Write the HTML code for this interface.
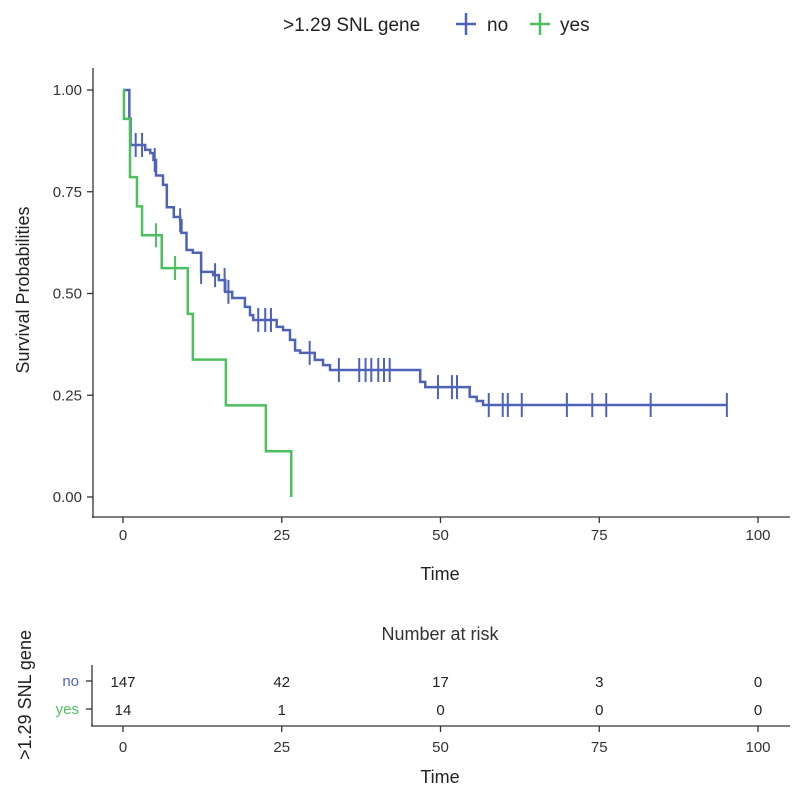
<!DOCTYPE html>
<html><head><meta charset="utf-8"><style>
body{margin:0;background:#fff;}
svg{display:block;font-family:"Liberation Sans",sans-serif;}
</style></head><body>
<svg id="chart" width="796" height="799" viewBox="0 0 796 799">
<g id="legend">
<text x="283" y="31" font-size="19" fill="#222">&gt;1.29 SNL gene</text>
<g><line x1="456" y1="24" x2="476" y2="24" stroke="#4E63B8" stroke-width="2.5"/><line x1="466" y1="13" x2="466" y2="35" stroke="#4E63B8" stroke-width="2.5"/><text x="487" y="31" font-size="19" fill="#222">no</text></g>
<g><line x1="530" y1="24" x2="550" y2="24" stroke="#4CBF5F" stroke-width="2.5"/><line x1="540" y1="13" x2="540" y2="35" stroke="#4CBF5F" stroke-width="2.5"/><text x="560" y="31" font-size="19" fill="#222">yes</text></g>
</g>
<g id="plot"></g>
<text x="440" y="580" font-size="18" fill="#222" text-anchor="middle">Time</text>
<text transform="translate(29,290) rotate(-90)" font-size="18" fill="#222" text-anchor="middle">Survival Probabilities</text>
<text x="440" y="640" font-size="18" fill="#333" text-anchor="middle">Number at risk</text>
<text transform="translate(31,695) rotate(-90)" font-size="18" fill="#222" text-anchor="middle">&gt;1.29 SNL gene</text>
<text x="440" y="783" font-size="18" fill="#222" text-anchor="middle">Time</text>
<g id="risk"></g>
</svg>
<script>
const xTicks=[0,25,50,75,100];
const yTicks=[0,0.25,0.5,0.75,1];
const yTickLabels=["0.00","0.25","0.50","0.75","1.00"];
const noTimes=[0,1.0,1.2,3.5,4.3,4.8,5.2,6.3,6.9,8.0,9.0,9.2,10.0,11.0,12.3,14.2,15.1,16.1,17.2,19.2,20.0,20.5,24.2,25.2,26.3,27.1,27.9,30.2,31.5,32.6,46.8,47.6,54.6,55.7,56.7];
const noSurv=[1,0.93,0.865,0.853,0.845,0.828,0.79,0.767,0.712,0.688,0.68,0.649,0.607,0.6,0.553,0.545,0.533,0.504,0.489,0.467,0.447,0.435,0.418,0.41,0.386,0.36,0.354,0.337,0.324,0.312,0.283,0.27,0.246,0.236,0.226];
const noEnd=95.1;
const noCensor=[2.0,3.0,5.0,9.0,12.3,14.5,16.0,16.6,21.3,22.4,23.3,29.4,34.0,37.2,38.2,39.1,40.2,41.1,42.0,49.6,51.8,52.6,57.6,59.8,60.6,62.8,69.9,73.9,76.1,83.1,95.1];
const yesTimes=[0,0.15,1.1,2.2,3.0,6.1,10.2,11.0,16.2,22.5,26.5];
const yesSurv=[1,0.929,0.786,0.714,0.643,0.5625,0.45,0.3375,0.225,0.1125,0];
const yesEnd=26.5;
const yesCensor=[5.2,8.2];
const riskGroups=["no","yes"];
const riskNo=[147,42,17,3,0];
const riskYes=[14,1,0,0,0];
const BLUE="#4E63B8",GREEN="#4CBF5F";
const NS="http://www.w3.org/2000/svg";
const X0=123,XS=6.35;
const sx=t=>X0+t*XS;
const sy=s=>497-s*407;
function mk(tag,attrs,parent){const e=document.createElementNS(NS,tag);for(const k in attrs)e.setAttribute(k,attrs[k]);parent.appendChild(e);return e;}
const plot=document.getElementById('plot');
mk('line',{x1:93,y1:68,x2:93,y2:518,stroke:'#333','stroke-width':1.3},plot);
mk('line',{x1:92,y1:517,x2:790,y2:517,stroke:'#333','stroke-width':1.3},plot);
xTicks.forEach(v=>{
 mk('line',{x1:sx(v),y1:517,x2:sx(v),y2:523,stroke:'#333','stroke-width':1.3},plot);
 const t=mk('text',{x:sx(v),y:540,'font-size':15,fill:'#333','text-anchor':'middle'},plot);t.textContent=v;
 
 
});
yTicks.forEach((v,i)=>{
 mk('line',{x1:87,y1:sy(v),x2:93,y2:sy(v),stroke:'#333','stroke-width':1.3},plot);
 const t=mk('text',{x:82,y:sy(v)+5,'font-size':15,fill:'#333','text-anchor':'end'},plot);t.textContent=yTickLabels[i];
 
 
});
function survAt(times,surv,t){let s=surv[0];for(let i=0;i<times.length;i++){if(times[i]<=t)s=surv[i];}return s;}
function drawCurve(times,surv,end,censor,color,name){
 let d='M'+sx(times[0])+','+sy(surv[0]);
 for(let i=1;i<times.length;i++){d+=' H'+sx(times[i])+' V'+sy(surv[i]);}
 d+=' H'+sx(end);
 const p=mk('path',{d:d,fill:'none',stroke:color,'stroke-width':2.5},plot);
 
 
 censor.forEach(c=>{
  const y=sy(survAt(times,surv,c));
  const l=mk('line',{x1:sx(c),y1:y-12,x2:sx(c),y2:y+12,stroke:color,'stroke-width':2},plot);
  
  
 });
}
drawCurve(noTimes,noSurv,noEnd,noCensor,BLUE,'no');
drawCurve(yesTimes,yesSurv,yesEnd,yesCensor,GREEN,'yes');
const risk=document.getElementById('risk');
mk('line',{x1:92,y1:665,x2:92,y2:726,stroke:'#333','stroke-width':1.3},risk);
mk('line',{x1:91,y1:726,x2:790,y2:726,stroke:'#333','stroke-width':1.3},risk);
const rowY=[681,709];
[riskNo,riskYes].forEach((row,r)=>{
 mk('line',{x1:86,y1:rowY[r],x2:92,y2:rowY[r],stroke:'#333','stroke-width':1.3},risk);
 const g=mk('text',{x:79,y:rowY[r]+5,'font-size':15,fill:r?GREEN:BLUE,'text-anchor':'end'},risk);g.textContent=riskGroups[r];
 
 
 row.forEach((v,i)=>{
  const t=mk('text',{x:sx(xTicks[i]),y:rowY[r]+6,'font-size':15,fill:'#222','text-anchor':'middle'},risk);t.textContent=v;
  
  
 });
});
xTicks.forEach(v=>{
 mk('line',{x1:sx(v),y1:726,x2:sx(v),y2:732,stroke:'#333','stroke-width':1.3},risk);
 const t=mk('text',{x:sx(v),y:752,'font-size':15,fill:'#333','text-anchor':'middle'},risk);t.textContent=v;
 
 
});
</script>
</body></html>
